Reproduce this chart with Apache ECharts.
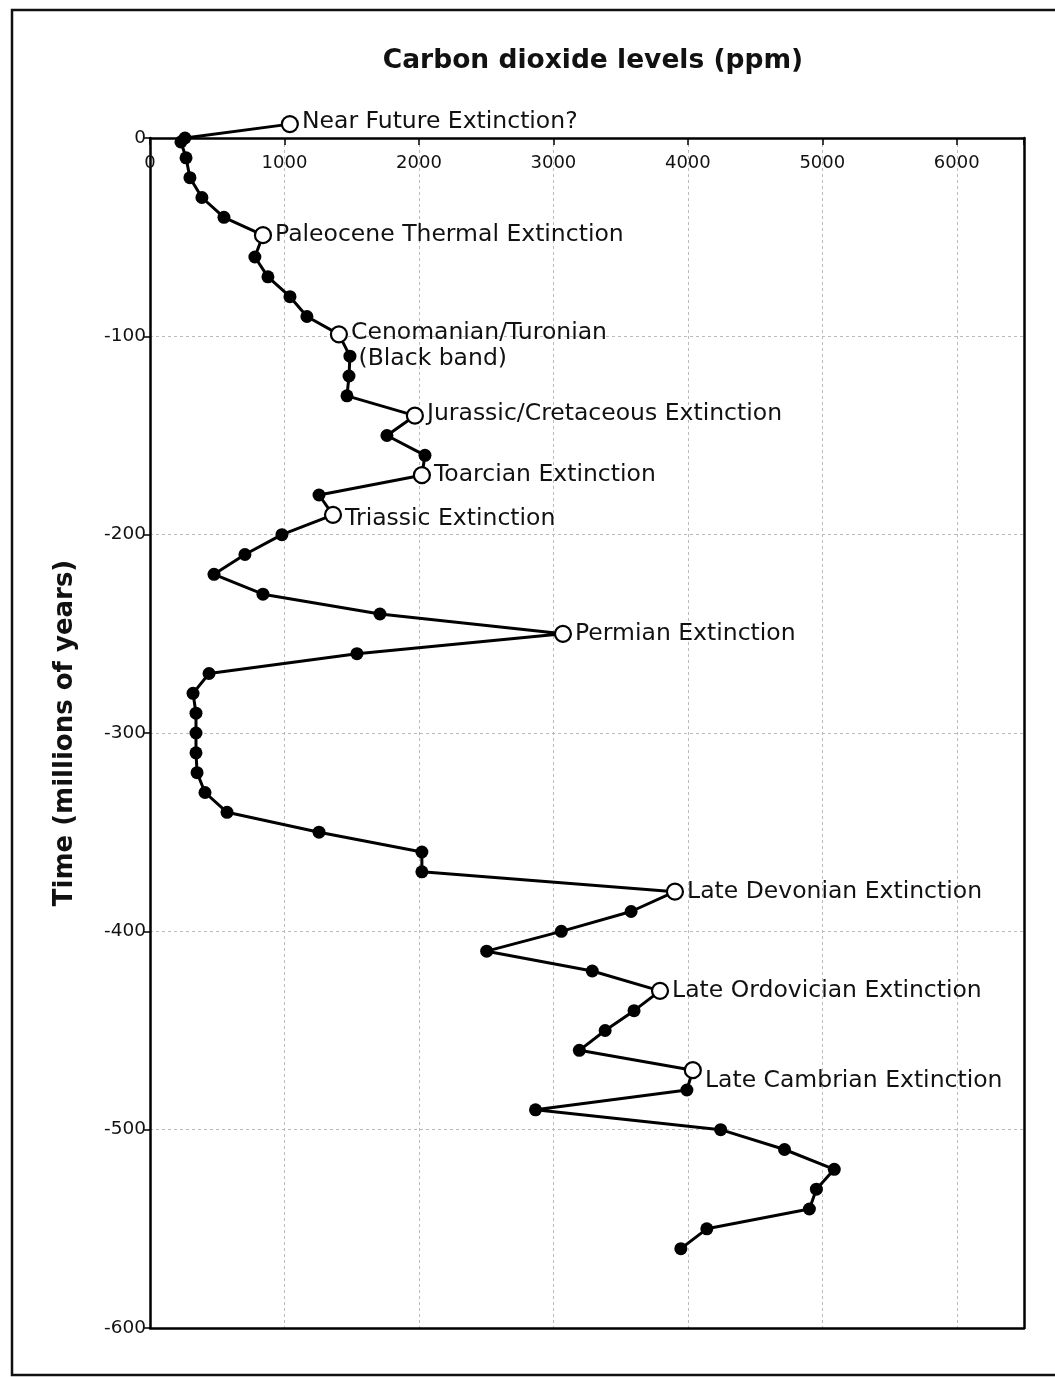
<!DOCTYPE html>
<html>
<head>
<meta charset="utf-8">
<style>
  html, body { margin: 0; padding: 0; background: #fff; }
  #chart { width: 1055px; height: 1377px; }
</style>
<script src="https://cdn.jsdelivr.net/npm/echarts@6/dist/echarts.min.js"></script>
</head>
<body>
<div id="chart"></div>
<script>
// Time (millions of years, negative = past) and CO2 (ppm)
const years = [7, 0, -2, -10, -20, -30, -40, -49, -60, -70, -80, -90, -99, -110, -120, -130,
  -140, -150, -160, -170, -180, -190, -200, -210, -220, -230, -240, -250, -260, -270,
  -280, -290, -300, -310, -320, -330, -340, -350, -360, -370, -380, -390, -400, -410,
  -420, -430, -440, -450, -460, -470, -480, -490, -500, -510, -520, -530, -540, -550, -560];
const co2 = [1040, 260, 230, 268, 297, 386, 550, 840, 780, 877, 1041, 1167, 1405, 1487, 1480, 1465,
  1970, 1762, 2045, 2022, 1257, 1361, 981, 706, 476, 840, 1710, 3071, 1539, 439,
  320, 342, 342, 342, 350, 409, 573, 1257, 2022, 2022, 3904, 3578, 3059, 2504,
  3289, 3793, 3600, 3385, 3193, 4037, 3993, 2867, 4244, 4719, 5089, 4956, 4904, 4141, 3948];
// Extinction events (open circles)
const eventYears = [7, -49, -99, -140, -170, -190, -250, -380, -430, -470];
const eventNames = ['Near Future Extinction?', 'Paleocene Thermal Extinction',
  'Cenomanian/Turonian\n (Black band)', 'Jurassic/Cretaceous Extinction', 'Toarcian Extinction',
  'Triassic Extinction', 'Permian Extinction', 'Late Devonian Extinction',
  'Late Ordovician Extinction', 'Late Cambrian Extinction'];
const xTicks = [0, 1000, 2000, 3000, 4000, 5000, 6000];
const yTicks = [0, -100, -200, -300, -400, -500, -600];

const labelOffsets = {
  'Cenomanian/Turonian\n (Black band)': [0, 12],
  'Triassic Extinction': [0, 4],
  'Late Cambrian Extinction': [0, 11],
  'Near Future Extinction?': [0, -2],
  'Jurassic/Cretaceous Extinction': [0, -2]
};

const seriesData = years.map((t, i) => {
  const ei = eventYears.indexOf(t);
  if (ei >= 0) {
    const name = eventNames[ei];
    return {
      value: [co2[i], t],
      symbolSize: 16,
      itemStyle: { color: '#fff', borderColor: '#000', borderWidth: 2.2 },
      label: {
        show: true, position: 'right', distance: 3,
        formatter: name,
        offset: labelOffsets[name] || [0, 0],
        fontFamily: 'DejaVu Sans', fontSize: 23.5, color: '#111', lineHeight: 26
      }
    };
  }
  return { value: [co2[i], t] };
});

const chart = echarts.init(document.getElementById('chart'), null, { renderer: 'canvas' });
chart.setOption({
  backgroundColor: '#fff',
  animation: false,
  title: {
    text: 'Carbon dioxide levels (ppm)',
    left: 588, top: 43, textAlign: 'center',
    textStyle: { fontFamily: 'DejaVu Sans', fontWeight: 'bold', fontSize: 26.5, color: '#111' }
  },
  graphic: [{
    type: 'rect', silent: true,
    shape: { x: 12, y: 10, width: 1100, height: 1365 },
    style: { fill: 'none', stroke: '#111', lineWidth: 2.5 }
  }],
  grid: {
    left: 150, right: 31, top: 138, bottom: 49,
    show: false
  },
  xAxis: [{
    type: 'value', position: 'top', min: 0, max: 6500, interval: 1000,
    axisLine: { show: true, lineStyle: { color: '#000', width: 2.5 } },
    axisTick: { show: true, inside: true, length: 7, lineStyle: { color: '#000', width: 1.5 } },
    axisLabel: {
      inside: true, margin: 16,
      fontFamily: 'DejaVu Sans', fontSize: 18, color: '#111',
      customValues: xTicks,
      formatter: v => String(v)
    },
    splitLine: { show: true, lineStyle: { color: '#bbb', width: 1, type: [3, 3] } }
  }, {
    type: 'value', position: 'bottom', min: 0, max: 6500,
    axisLine: { show: true, onZero: false, lineStyle: { color: '#000', width: 2.5 } },
    axisTick: { show: false }, axisLabel: { show: false }, splitLine: { show: false }
  }],
  yAxis: [{
    type: 'value', min: -600, max: 0, interval: 100,
    name: 'Time (millions of years)', nameLocation: 'middle', nameGap: 72,
    nameTextStyle: { fontFamily: 'DejaVu Sans', fontWeight: 'bold', fontSize: 26, color: '#111' },
    axisLine: { show: true, onZero: false, lineStyle: { color: '#000', width: 2.5 } },
    axisTick: { show: true, inside: false, length: 6, lineStyle: { color: '#000', width: 1.5 } },
    axisLabel: {
      margin: 4, fontFamily: 'DejaVu Sans', fontSize: 18.5, color: '#111',
      customValues: yTicks
    },
    splitLine: { show: true, lineStyle: { color: '#bbb', width: 1, type: [3, 3] } }
  }, {
    type: 'value', position: 'right', min: -600, max: 0,
    axisLine: { show: true, onZero: false, lineStyle: { color: '#000', width: 2.5 } },
    axisTick: { show: false }, axisLabel: { show: false }, splitLine: { show: false }
  }],
  series: [{
    type: 'line',
    data: seriesData,
    clip: false,
    symbol: 'circle',
    symbolSize: 13,
    showAllSymbol: true,
    lineStyle: { color: '#000', width: 3 },
    itemStyle: { color: '#000', borderColor: '#000', borderWidth: 0 },
    emphasis: { disabled: true },
    z: 5
  }]
});
</script>
</body>
</html>
